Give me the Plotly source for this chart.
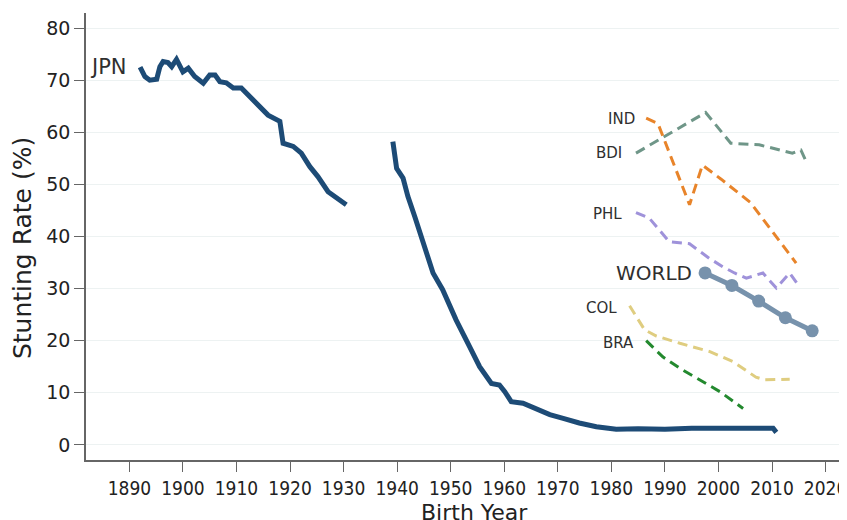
import plotly.graph_objects as go

# ---- data ----
jpn_years_a = [1892, 1892.9, 1893.8, 1895.1, 1895.7, 1896.3, 1897.2, 1897.9, 1898.8, 1899.4,
               1900.0, 1901.0, 1902.2, 1903.8, 1905.0, 1906.0, 1906.9, 1908.1, 1909.4, 1910.9,
               1912.5, 1914.3, 1915.9, 1918.1, 1918.7, 1920.6, 1922.1, 1923.7, 1925.2, 1927.1,
               1928.7, 1930.5]
jpn_vals_a = [72.5, 70.7, 70.0, 70.2, 72.6, 73.6, 73.4, 72.6, 74.0, 72.6,
              71.6, 72.3, 70.7, 69.4, 71.0, 71.0, 69.7, 69.5, 68.5, 68.5,
              66.9, 64.9, 63.3, 62.1, 57.9, 57.3, 56.0, 53.4, 51.5, 48.6,
              47.4, 46.1]
jpn_years_b = [1939.2, 1939.9, 1941.1, 1942.0, 1943.3, 1944.8, 1946.7, 1948.5, 1951.0, 1953.5,
               1955.4, 1957.6, 1959.1, 1960.1, 1961.3, 1963.5, 1966.0, 1968.5, 1971.0, 1974.0,
               1977.2, 1980.9, 1985, 1990, 1995, 2000, 2005, 2010.2, 2010.8]
jpn_vals_b = [58.2, 53.1, 51.2, 47.7, 43.8, 39.3, 33.0, 29.8, 24.0, 18.9,
              15.0, 11.8, 11.5, 10.2, 8.3, 8.0, 7.0, 5.8, 5.1, 4.2,
              3.5, 3.0, 3.1, 3.0, 3.2, 3.1, 3.2, 3.2, 2.4]

ind_years = [1986.5, 1988.7, 1994.6, 1997.0, 2000.5, 2006.0, 2014.5]
ind_vals = [62.7, 61.7, 46.1, 53.7, 51.0, 46.5, 34.9]

bdi_years = [1984.6, 1997.6, 2002.3, 2007.6, 2013.8, 2015.4, 2016.6]
bdi_vals = [56.0, 63.8, 57.9, 57.6, 56.0, 56.6, 53.9]

phl_years = [1984.6, 1987.1, 1990.8, 1994.6, 1998.3, 2000.8, 2003.0, 2005.2, 2008.3, 2010.8, 2013.3, 2014.8]
phl_vals = [44.6, 43.5, 39.0, 38.6, 35.8, 34.2, 33.0, 32.0, 33.0, 30.1, 33.0, 30.8]

world_years = [1997.5, 2002.5, 2007.5, 2012.5, 2017.5]
world_vals = [33.0, 30.6, 27.6, 24.4, 21.9]

col_years = [1983.4, 1986.2, 1988.4, 1992.8, 1998.4, 2002.7, 2007.0, 2008.6, 2013.3]
col_vals = [26.7, 22.1, 20.9, 19.5, 17.9, 16.0, 13.0, 12.5, 12.6]

bra_years = [1986.5, 1989.6, 1992.8, 1995.9, 2000.3, 2004.6]
bra_vals = [20.0, 16.9, 14.7, 12.8, 10.2, 7.0]

y_ticks = [0, 10, 20, 30, 40, 50, 60, 70, 80]
x_ticks = list(range(1890, 2030, 10))

labels = ["JPN", "IND", "BDI", "PHL", "WORLD", "COL", "BRA"]
label_x = [1889.9, 1984.7, 1982.4, 1982.4, 1995.5, 1981.4, 1984.6]
label_y = [72.5, 62.6, 56.0, 44.3, 33.0, 26.2, 19.5]
label_size = [21, 15, 15, 15, 20, 15, 15]

x_title = "Birth Year"
y_title = "Stunting Rate (%)"

# ---- figure ----
# The page body has an 8px margin; the figure is sized so that it fills the window.
fig = go.Figure()

dash = "10px,6px"
fig.add_trace(go.Scatter(x=jpn_years_a + [None] + jpn_years_b,
                         y=jpn_vals_a + [None] + jpn_vals_b,
                         mode="lines", line=dict(color="#1d4b76", width=5),
                         connectgaps=False, showlegend=False))
fig.add_trace(go.Scatter(x=bdi_years, y=bdi_vals, mode="lines",
                         line=dict(color="#6f9688", width=3, dash=dash), showlegend=False))
fig.add_trace(go.Scatter(x=ind_years, y=ind_vals, mode="lines",
                         line=dict(color="#e8842a", width=3, dash=dash), showlegend=False))
fig.add_trace(go.Scatter(x=phl_years, y=phl_vals, mode="lines",
                         line=dict(color="#9f92da", width=3, dash=dash), showlegend=False))
fig.add_trace(go.Scatter(x=col_years, y=col_vals, mode="lines",
                         line=dict(color="#dfcd80", width=3, dash=dash), showlegend=False))
fig.add_trace(go.Scatter(x=bra_years, y=bra_vals, mode="lines",
                         line=dict(color="#23892e", width=3, dash=dash), showlegend=False))
fig.add_trace(go.Scatter(x=world_years, y=world_vals, mode="lines+markers",
                         line=dict(color="#7792ac", width=5),
                         marker=dict(color="#7792ac", size=13), showlegend=False))

for t, x, y, s in zip(labels, label_x, label_y, label_size):
    fig.add_annotation(x=x, y=y, text=t, showarrow=False, xanchor="right", yanchor="middle",
                       font=dict(family="DejaVu Sans", size=s, color="#2f2f2f"))

# axis titles
fig.add_annotation(xref="paper", yref="paper", x=0.5105, y=-0.118, text=x_title, showarrow=False,
                   xanchor="center", yanchor="middle",
                   font=dict(family="DejaVu Sans", size=22, color="#222"))
fig.add_annotation(xref="paper", yref="paper", x=-0.0841, y=0.474, text=y_title, showarrow=False,
                   textangle=-90, xanchor="center", yanchor="middle",
                   font=dict(family="DejaVu Sans", size=25, color="#222"))

fig.update_layout(
    width=839, height=512,
    margin=dict(l=78, r=0, t=5, b=60, autoexpand=False),
    paper_bgcolor="white", plot_bgcolor="white",
    font=dict(family="DejaVu Sans", color="#222"),
)
fig.update_xaxes(range=[1881.9, 2024.0], tickvals=x_ticks, ticks="outside", ticklen=10,
                 tickcolor="#666", showline=True, linecolor="#666", linewidth=1.5,
                 showgrid=False, zeroline=False, ticklabeloverflow="allow",
                 tickfont=dict(family="DejaVu Sans Condensed", size=19, color="#222"))
fig.update_yaxes(range=[-2.9, 82.9], tickvals=y_ticks, ticks="outside", ticklen=10,
                 tickcolor="#666", showline=True, linecolor="#666", linewidth=1.5,
                 showgrid=True, gridcolor="#edf2f2", gridwidth=1, zeroline=False,
                 tickfont=dict(family="DejaVu Sans", size=19, color="#222"))

fig.write_html("out.html")
